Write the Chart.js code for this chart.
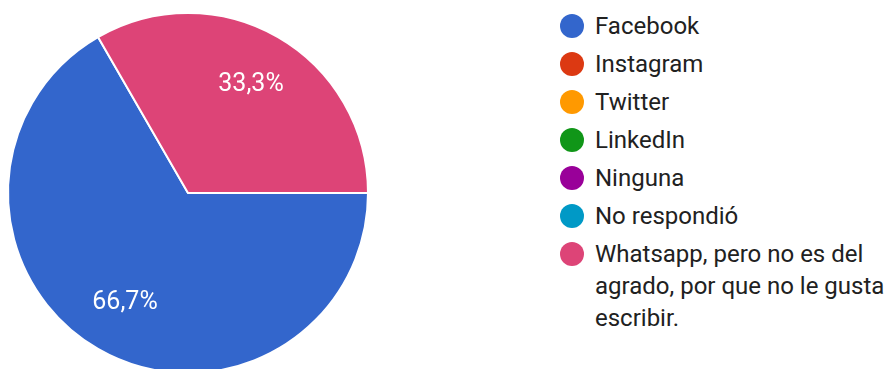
<!DOCTYPE html>
<html>
  <head>
    <meta charset="utf-8">
    <title>Redes sociales</title>
    <style>
      html, body { margin: 0; padding: 0; width: 890px; height: 369px; overflow: hidden; background: #fff; }
      .pie { position: absolute; left: 0; top: 0; width: 376px; height: 386px; }
      .leyenda { position: absolute; left: 560px; top: 10px; font-family: Roboto, sans-serif; font-size: 24px; line-height: 32px; color: #212121; }
      .item { display: flex; align-items: flex-start; margin-bottom: 6px; }
      .punto { width: 24px; height: 24px; border-radius: 50%; margin-top: 4px; margin-right: 11px; flex: none; }
      .texto { width: 295px; }
    </style>
  </head>
  <body>
    <div class="pie"><canvas id="chart1"></canvas></div>
    <div id="leyenda" class="leyenda"></div>

    <script src="https://cdn.jsdelivr.net/npm/chart.js@4/dist/chart.umd.min.js"></script>
    <script type="text/javascript">
      const categorias = ['Facebook', 'Instagram', 'Twitter', 'LinkedIn', 'Ninguna', 'No respondió', 'Whatsapp, pero no es del agrado, por que no le gusta escribir.']
      const respuestas = [2, 0, 0, 0, 0, 0, 1]
      const colores = ['#3366cc', '#dc3912', '#ff9900', '#109618', '#990099', '#0099c6', '#dd4477']

      // porcentajes dentro de cada porcion
      const etiquetas = {
        id: 'etiquetas',
        afterDatasetsDraw(chart) {
          const ctx = chart.ctx
          const meta = chart.getDatasetMeta(0)
          const total = respuestas.reduce((a, b) => a + b, 0)
          ctx.save()
          ctx.font = '25px Roboto, sans-serif'
          ctx.fillStyle = '#ffffff'
          ctx.textAlign = 'center'
          ctx.textBaseline = 'middle'
          meta.data.forEach((arc, i) => {
            if (!respuestas[i]) return
            const p = arc.getProps(['x', 'y', 'startAngle', 'endAngle', 'outerRadius'], true)
            const ang = (p.startAngle + p.endAngle) / 2
            const r = p.outerRadius * 0.7
            const txt = (respuestas[i] / total * 100).toFixed(1).replace('.', ',') + '%'
            ctx.fillText(txt, p.x + Math.cos(ang) * r, p.y + Math.sin(ang) * r + 1)
          })
          ctx.restore()
        }
      }

      var ctx = document.getElementById('chart1').getContext('2d')
      var chart1 = new Chart(ctx, {
        type: 'pie',
        data: {
          labels: categorias,
          datasets: [{
            data: respuestas,
            backgroundColor: colores,
            borderColor: '#ffffff',
            borderWidth: 2,
            radius: 180
          }]
        },
        options: {
          animation: false,
          responsive: true,
          maintainAspectRatio: false,
          rotation: 90,
          plugins: {
            legend: { display: false },
            tooltip: { enabled: false }
          }
        },
        plugins: [etiquetas]
      })

      // Leyenda //
      var leyenda = document.getElementById('leyenda')
      categorias.forEach((nombre, i) => {
        var item = document.createElement('div')
        item.className = 'item'
        item.innerHTML = '<div class="punto" style="background:' + colores[i] + '"></div><div class="texto">' + nombre + '</div>'
        leyenda.appendChild(item)
      })
    </script>
  </body>
</html>
